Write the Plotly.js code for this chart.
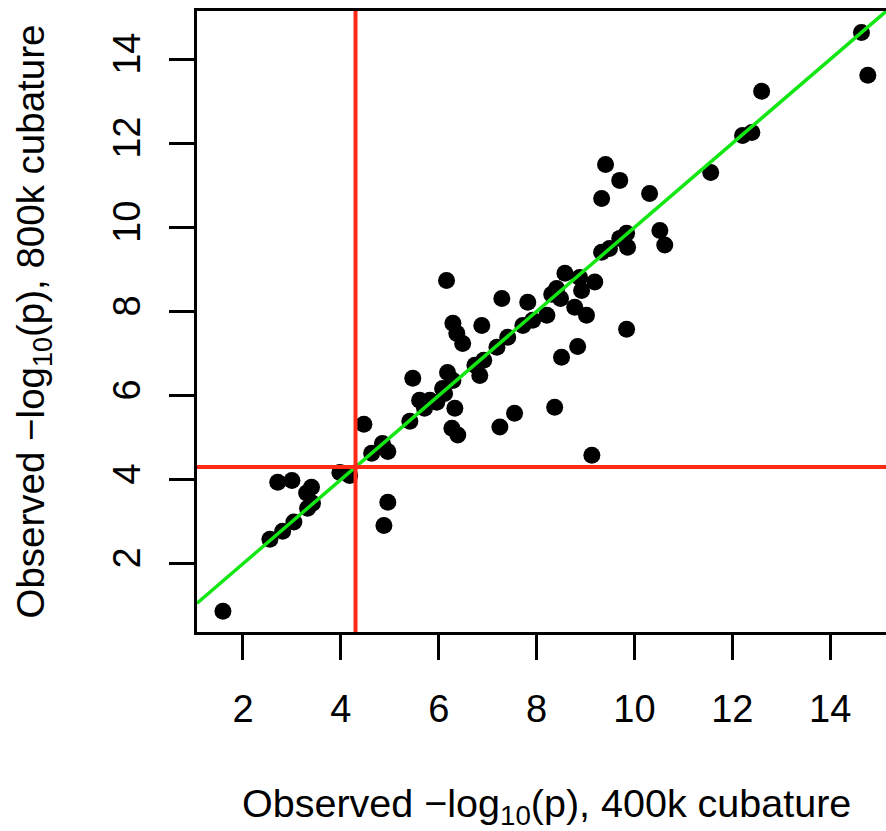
<!DOCTYPE html>
<html>
<head>
<meta charset="utf-8">
<script src="https://cdn.plot.ly/plotly-3.0.1.min.js"></script>
<style>
html, body { margin: 0; padding: 0; overflow: hidden; background: #fff; }
#chart { width: 896px; height: 831px; }
</style>
</head>
<body>
<div id="chart"></div>
<script>
// -log10(p) with 400k cubature points
const x400k = [1.59, 2.55, 2.81, 3.04, 3.32, 3.42, 3.30, 3.40, 2.71, 3.00,
  3.98, 4.18, 4.88, 4.96, 4.47, 4.63, 4.85, 4.96, 5.41, 5.47,
  5.61, 5.71, 5.96, 6.12, 6.33, 6.27, 6.39, 6.16, 6.29, 6.37,
  6.49, 6.18, 6.29, 6.08, 5.82, 6.74, 6.84, 6.92, 6.88, 7.19,
  7.41, 7.72, 7.92, 7.29, 7.25, 7.55, 7.82, 8.21, 8.31, 8.41,
  8.49, 8.58, 8.37, 8.51, 8.84, 8.78, 9.02, 8.88, 8.92, 9.19,
  9.13, 9.33, 9.49, 9.70, 9.84, 9.86, 9.84, 9.33, 9.41, 9.70,
  10.31, 10.52, 10.62, 11.56, 12.21, 12.40, 12.60, 14.64, 14.77];
// -log10(p) with 800k cubature points
const y800k = [0.87, 2.58, 2.77, 2.99, 3.32, 3.44, 3.68, 3.82, 3.94, 3.98,
  4.17, 4.10, 2.91, 3.46, 5.32, 4.63, 4.86, 4.67, 5.39, 6.41,
  5.89, 5.70, 5.84, 6.05, 5.70, 5.22, 5.06, 8.74, 7.72, 7.48,
  7.24, 6.55, 6.36, 6.17, 5.89, 6.72, 6.48, 6.84, 7.67, 7.15,
  7.39, 7.67, 7.79, 8.31, 5.25, 5.58, 8.22, 7.91, 8.41, 8.55,
  8.31, 8.91, 5.72, 6.91, 7.17, 8.10, 7.91, 8.81, 8.50, 8.70,
  4.58, 9.41, 9.50, 9.74, 9.86, 9.53, 7.58, 10.69, 11.50, 11.12,
  10.81, 9.93, 9.58, 11.31, 12.19, 12.26, 13.24, 14.64, 13.62];
const tickValues = [2, 4, 6, 8, 10, 12, 14];
const tickLabels = ["2", "4", "6", "8", "10", "12", "14"];
const threshold = 4.3;          // significance threshold, -log10(5e-5)
const xRange = [1.06, 15.346];
const yRange = [0.375, 15.15];
const identityLine = [Math.max(xRange[0], yRange[0]), Math.min(xRange[1], yRange[1])];

const fontFam = '"Liberation Sans", Arial, Helvetica, sans-serif';

const trace = {
  x: x400k, y: y800k, type: 'scatter', mode: 'markers',
  marker: { color: '#000000', size: 17, line: { width: 0 } },
  hoverinfo: 'x+y'
};

const axisCommon = {
  showgrid: false, zeroline: false, showline: true, mirror: true,
  linecolor: '#000', linewidth: 3,
  ticks: 'outside', ticklen: 25, tickwidth: 3, tickcolor: '#000',
  tickmode: 'array', tickvals: tickValues, ticktext: tickLabels,
  tickfont: { family: fontFam, size: 38, color: '#000' },
  fixedrange: true
};

const layout = {
  width: 896, height: 831,
  margin: { l: 197, r: 0, t: 11, b: 199 },
  paper_bgcolor: '#fff', plot_bgcolor: '#fff',
  showlegend: false,
  xaxis: Object.assign({}, axisCommon, { range: xRange, ticklabelstandoff: 16 }),
  yaxis: Object.assign({}, axisCommon, { range: yRange, tickangle: -90, ticklabelstandoff: 14 }),
  shapes: [
    { type: 'line', xref: 'x', yref: 'y', x0: identityLine[0], y0: identityLine[0], x1: identityLine[1], y1: identityLine[1],
      line: { color: '#14e614', width: 3.5 }, layer: 'above' },
    { type: 'line', xref: 'x', yref: 'paper', x0: threshold, x1: threshold, y0: 0, y1: 1,
      line: { color: '#ff2a16', width: 4 }, layer: 'above' },
    { type: 'line', xref: 'paper', yref: 'y', x0: 0, x1: 1, y0: threshold, y1: threshold,
      line: { color: '#ff2a16', width: 4 }, layer: 'above' }
  ],
  annotations: [
    { text: 'Observed \u2212log<sub>10</sub>(p), 400k cubature', xref: 'paper', yref: 'paper',
      x: 0.5, y: 0, xanchor: 'center', yanchor: 'middle', yshift: -174, showarrow: false,
      font: { family: fontFam, size: 39.5, color: '#000' } },
    { text: 'Observed \u2212log<sub>10</sub>(p), 800k cubature', xref: 'paper', yref: 'paper',
      x: 0, y: 0.5, xanchor: 'center', yanchor: 'middle', xshift: -164, textangle: -90, showarrow: false,
      font: { family: fontFam, size: 38.5, color: '#000' } }
  ]
};

Plotly.newPlot('chart', [trace], layout, { displayModeBar: false, staticPlot: true });
</script>
</body>
</html>
